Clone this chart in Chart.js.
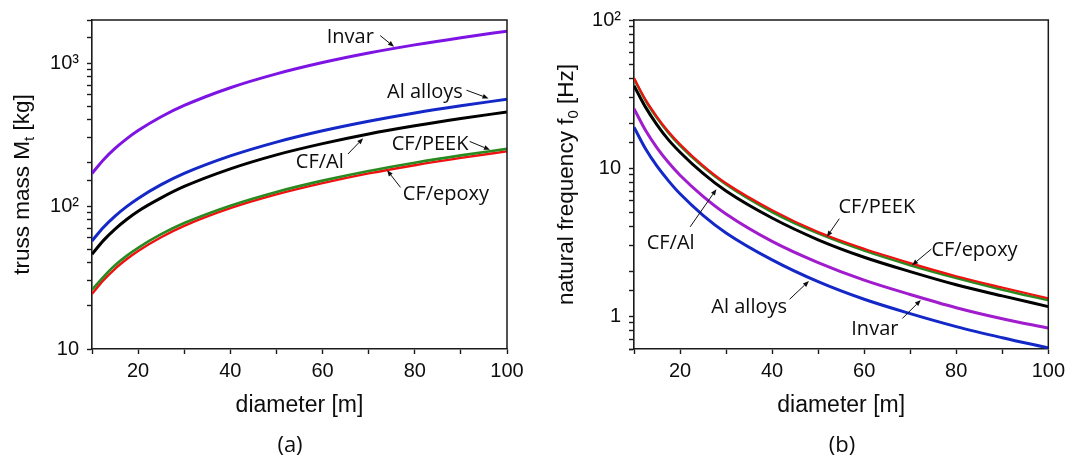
<!DOCTYPE html>
<html>
<head>
<meta charset="utf-8">
<script src="https://cdn.jsdelivr.net/npm/chart.js"></script>
<style>
  html, body { margin: 0; padding: 0; background: #fff; }
  #wrap { position: relative; width: 1070px; height: 462px; }
  canvas { position: absolute; top: 0; }
</style>
</head>
<body>
<div id="wrap">
  <canvas id="massChart" width="535" height="462" style="left:0"></canvas>
  <canvas id="freqChart" width="535" height="462" style="left:535px"></canvas>
</div>
<script>
// diameter [m], shared by both panels
const diameters = [10, 12.5, 15, 17.5, 20, 25, 30, 40, 50, 60, 70, 80, 90, 100];

// (a) truss mass Mt [kg]
const massInvar = [169, 211, 253, 295, 337, 421, 505, 672, 840, 1008, 1175, 1340, 1505, 1670];
const massAl    = [57, 71, 85, 99, 113, 141, 169, 224, 280, 336, 392, 448, 503, 558];
const massCFAl  = [46, 57.5, 69, 80.5, 92, 114, 137, 182, 228, 273, 319, 364, 409, 455];
const massPEEK  = [26, 32, 38.5, 44.8, 51, 63.5, 76, 100.5, 125.5, 150.5, 176, 201, 226, 251];
const massEpoxy = [24.3, 30.3, 36.4, 42.4, 48.5, 60.5, 72.6, 96.5, 120.5, 144.5, 169, 193, 217, 241];

// (b) natural frequency f0 [Hz]
const freqEpoxy = [40.5, 29.0, 22.2, 17.6, 14.5, 10.4, 7.9, 5.2, 3.7, 2.85, 2.28, 1.86, 1.56, 1.32];
const freqPEEK  = [40, 28.6, 21.8, 17.3, 14.2, 10.2, 7.75, 5.05, 3.62, 2.77, 2.21, 1.81, 1.51, 1.28];
const freqCFAl  = [36, 25.8, 19.6, 15.5, 12.8, 9.2, 7.0, 4.6, 3.28, 2.5, 2.0, 1.63, 1.37, 1.16];
const freqInvar = [25.2, 18.0, 13.7, 10.9, 8.95, 6.45, 4.9, 3.2, 2.3, 1.75, 1.4, 1.14, 0.96, 0.83];
const freqAl    = [18.9, 13.5, 10.3, 8.2, 6.7, 4.8, 3.65, 2.4, 1.71, 1.3, 1.04, 0.85, 0.715, 0.61];

// labelled ticks
const xTickValues = [20, 40, 60, 80, 100];
const massTickValues = [10, 100, 1000];
const massTickText = ['10', '10\u00B2', '10\u00B3'];
const freqTickValues = [1, 10, 100];
const freqTickText = ['1', '10', '10\u00B2'];

const AXIS = '#1a1a1a';
const TXT = '#0d0d0d';

function pts(vals) {
  return diameters.map((d, i) => ({ x: d, y: vals[i] }));
}

function logLabel(values, texts) {
  return function (v) {
    for (let i = 0; i < values.length; i++) {
      if (Math.abs(v - values[i]) < values[i] * 1e-6) return texts[i];
    }
    return '';
  };
}

function line(label, vals, color, width) {
  return {
    label: label,
    data: pts(vals),
    borderColor: color,
    borderWidth: width,
    pointRadius: 0,
    fill: false,
    cubicInterpolationMode: 'monotone'
  };
}

// frame, rotated y title with subscript, labelled arrows and panel caption
const figureExtras = {
  id: 'figureExtras',
  afterDraw(chart, args, opts) {
    const ctx = chart.ctx;
    const a = chart.chartArea;
    const xs = chart.scales.x, ys = chart.scales.y;
    ctx.save();

    ctx.strokeStyle = AXIS;
    ctx.lineWidth = 1.5;
    ctx.beginPath();
    ctx.moveTo(a.left, a.top);
    ctx.lineTo(a.right, a.top);
    ctx.lineTo(a.right, a.bottom);
    ctx.stroke();

    // y title
    ctx.save();
    ctx.translate(opts.titleX, (a.top + a.bottom) / 2);
    ctx.rotate(-Math.PI / 2);
    ctx.fillStyle = TXT;
    ctx.textBaseline = 'alphabetic';
    let total = 0;
    opts.yTitle.forEach(s => {
      ctx.font = (s.sub ? '15px' : '22.5px') + ' "Liberation Sans", Arial, sans-serif';
      s.w = ctx.measureText(s.text).width;
      total += s.w;
    });
    let x = -total / 2;
    opts.yTitle.forEach(s => {
      ctx.font = (s.sub ? '15px' : '22.5px') + ' "Liberation Sans", Arial, sans-serif';
      ctx.fillText(s.text, x, s.sub ? 5 : 0);
      x += s.w;
    });
    ctx.restore();

    // labels with arrows
    ctx.font = '20px "Open Sans", sans-serif';
    ctx.fillStyle = TXT;
    ctx.strokeStyle = TXT;
    ctx.lineWidth = 1;
    ctx.textAlign = 'left';
    ctx.textBaseline = 'alphabetic';
    opts.notes.forEach(n => {
      ctx.fillText(n.text, xs.getPixelForValue(n.at[0]), ys.getPixelForValue(n.at[1]));
      const x0 = xs.getPixelForValue(n.from[0]), y0 = ys.getPixelForValue(n.from[1]);
      const x1 = xs.getPixelForValue(n.to[0]), y1 = ys.getPixelForValue(n.to[1]);
      const ang = Math.atan2(y1 - y0, x1 - x0);
      const hl = 6, hw = 2.4;
      ctx.beginPath();
      ctx.moveTo(x0, y0);
      ctx.lineTo(x1 - hl * Math.cos(ang), y1 - hl * Math.sin(ang));
      ctx.stroke();
      ctx.beginPath();
      ctx.moveTo(x1, y1);
      ctx.lineTo(x1 - hl * Math.cos(ang) + hw * Math.sin(ang), y1 - hl * Math.sin(ang) - hw * Math.cos(ang));
      ctx.lineTo(x1 - hl * Math.cos(ang) - hw * Math.sin(ang), y1 - hl * Math.sin(ang) + hw * Math.cos(ang));
      ctx.closePath();
      ctx.fill();
    });

    // caption
    ctx.font = '22px "Open Sans", sans-serif';
    ctx.textAlign = 'center';
    ctx.textBaseline = 'middle';
    ctx.fillText(opts.caption, opts.captionX, 446);
    ctx.restore();
  }
};

function makeOptions(cfg) {
  return {
    responsive: false,
    animation: false,
    layout: { padding: cfg.padding },
    plugins: {
      legend: { display: false },
      tooltip: { enabled: false },
      figureExtras: cfg.extras
    },
    scales: {
      x: {
        type: 'linear',
        min: 10,
        max: 100,
        afterFit: s => { s.height = 113; },
        ticks: {
          stepSize: 10,
          autoSkip: false,
          maxRotation: 0,
          padding: 5,
          color: TXT,
          font: { family: '"Liberation Sans", Arial, sans-serif', size: 20 },
          callback: v => (xTickValues.includes(v) ? String(v) : '')
        },
        grid: { drawOnChartArea: false, drawTicks: true, tickLength: 5, tickColor: AXIS, tickWidth: 1.4 },
        border: { display: true, color: AXIS, width: 1.6 },
        title: {
          display: true,
          text: 'diameter [m]',
          color: TXT,
          font: { family: '"Liberation Sans", Arial, sans-serif', size: 23 },
          padding: { top: 0, bottom: 43 }
        }
      },
      y: {
        type: 'logarithmic',
        min: cfg.yMin,
        max: cfg.yMax,
        afterFit: s => { s.width = cfg.yWidth; },
        ticks: {
          autoSkip: false,
          padding: 8,
          color: TXT,
          font: { family: '"Liberation Sans", Arial, sans-serif', size: 20 },
          callback: cfg.yLabel
        },
        grid: { drawOnChartArea: false, drawTicks: true, tickLength: 5, tickColor: AXIS, tickWidth: 1.4 },
        border: { display: true, color: AXIS, width: 1.6 }
      }
    }
  };
}

// (a) mass panel: first dataset is drawn on top
new Chart(document.getElementById('massChart'), {
  type: 'line',
  data: {
    datasets: [
      line('Invar', massInvar, '#7d14e4', 3),
      line('Al alloys', massAl, '#1428c8', 3),
      line('CF/Al', massCFAl, '#000000', 3),
      line('CF/PEEK', massPEEK, '#2a8a20', 2.6),
      line('CF/epoxy', massEpoxy, '#f01010', 2.4)
    ]
  },
  options: makeOptions({
    padding: { top: 14, right: 28, left: 0, bottom: 0 },
    yMin: 10, yMax: 2000, yWidth: 92,
    yLabel: logLabel(massTickValues, massTickText),
    extras: {
      titleX: 28.5,
      yTitle: [{ text: 'truss mass M' }, { text: 't', sub: true }, { text: ' [kg]' }],
      caption: '(a)', captionX: 290,
      notes: [
        { text: 'Invar', at: [60.9, 1377], from: [72.5, 1556], to: [75.5, 1300] },
        { text: 'Al alloys', at: [74.0, 574], from: [91.2, 646], to: [96.0, 566] },
        { text: 'CF/PEEK', at: [75.0, 247], from: [91.9, 283], to: [96.3, 247] },
        { text: 'CF/Al', at: [54.2, 183], from: [65.5, 231], to: [68.8, 298] },
        { text: 'CF/epoxy', at: [77.4, 110], from: [76.9, 135], to: [74.0, 178] }
      ]
    }
  }),
  plugins: [figureExtras]
});

// (b) frequency panel
new Chart(document.getElementById('freqChart'), {
  type: 'line',
  data: {
    datasets: [
      line('CF/epoxy', freqEpoxy, '#f01010', 2.2),
      line('CF/PEEK', freqPEEK, '#2a8a20', 2.6),
      line('CF/Al', freqCFAl, '#000000', 3),
      line('Invar', freqInvar, '#a01ccc', 3),
      line('Al alloys', freqAl, '#1428c8', 3)
    ]
  },
  options: makeOptions({
    padding: { top: 15, right: 21, left: 0, bottom: 0 },
    yMin: 0.6, yMax: 100, yWidth: 99,
    yLabel: logLabel(freqTickValues, freqTickText),
    extras: {
      titleX: 37.5,
      yTitle: [{ text: 'natural frequency f' }, { text: '0', sub: true }, { text: ' [Hz]' }],
      caption: '(b)', captionX: 307,
      notes: [
        { text: 'CF/PEEK', at: [54.4, 4.96], from: [54.6, 4.55], to: [51.9, 3.44] },
        { text: 'CF/epoxy', at: [74.6, 2.53], from: [74.6, 2.84], to: [70.4, 2.21] },
        { text: 'CF/Al', at: [12.75, 2.86], from: [22.2, 4.01], to: [27.9, 7.2] },
        { text: 'Al alloys', at: [26.8, 1.058], from: [43.8, 1.30], to: [48.0, 1.727] },
        { text: 'Invar', at: [57.2, 0.744], from: [68.3, 0.965], to: [72.3, 1.285] }
      ]
    }
  }),
  plugins: [figureExtras]
});
</script>
</body>
</html>
